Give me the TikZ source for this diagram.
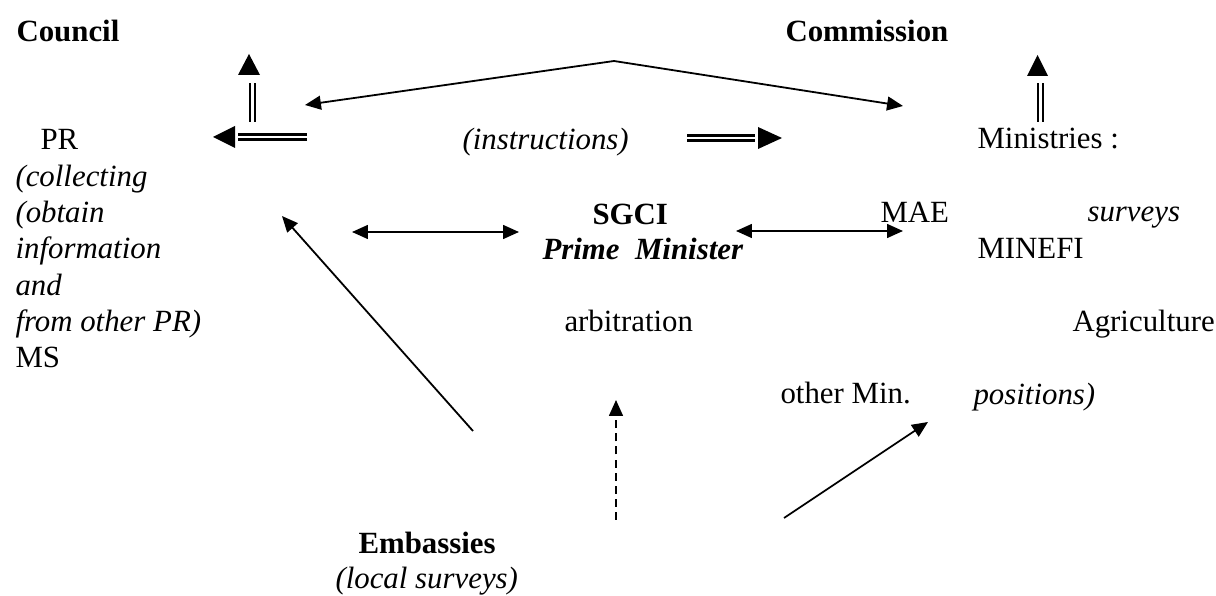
\documentclass[tikz,border=0pt]{standalone}
\usepackage{fontspec}
\setmainfont{Liberation Serif}
\usetikzlibrary{arrows.meta}
\begin{document}
\begin{tikzpicture}[x=0.389pt,y=-0.389pt,
  txt/.style={anchor=base west, inner sep=0pt, font=\fontsize{12}{14}\selectfont},
  thinarrow/.style={line width=0.7pt, -{Triangle[length=6.2pt,width=5.4pt]}},
  botharrow/.style={line width=0.7pt, {Triangle[length=6.2pt,width=5.4pt]}-{Triangle[length=6.2pt,width=5.4pt]}},
  dasharrow/.style={line width=0.7pt, dash pattern=on 3.1pt off 2pt, -{Triangle[length=6.2pt,width=5.4pt]}},
  dbl/.style={double, line width=0.95pt, double distance=0.9pt},
  headfill/.style={fill=black, draw=none}]
\useasboundingbox (0,0) rectangle (1216,596);

% texts
\node[txt] (council) at (16,42) {\textbf{Council}};
\node[txt] (commission) at (785,42) {\textbf{Commission}};
\node[txt] (pr) at (40,150) {PR};
\node[txt] (l1) at (15,186.5) {\textit{(collecting}};
\node[txt] (l2) at (15,223) {\textit{(obtain}};
\node[txt] (l3) at (15,259) {\textit{information}};
\node[txt] (l4) at (15,295.5) {\textit{and}};
\node[txt] (l5) at (15,332) {\textit{from other PR)}};
\node[txt] (ms) at (15,368) {MS};
\node[txt] (instr) at (462,150) {\textit{(instructions)}};
\node[txt] (ministries) at (977,149) {Ministries :};
\node[txt] (sgci) at (592,225) {\textbf{SGCI}};
\node[txt] (pm) at (542,260) {\textbf{\textit{Prime\ \ Minister}}};
\node[txt] (mae) at (880,223) {MAE};
\node[txt] (surveys) at (1087,222) {\textit{surveys}};
\node[txt] (minefi) at (977,259) {MINEFI};
\node[txt] (arb) at (564,332) {arbitration};
\node[txt] (agri) at (1072,332) {Agriculture};
\node[txt] (othermin) at (780,404) {other Min.};
\node[txt] (positions) at (973,405) {\textit{positions)}};
\node[txt] (emb) at (358,554) {\textbf{Embassies}};
\node[txt] (local) at (335,589) {\textit{(local surveys)}};

% coordinates for connectors
\coordinate (apex) at (614,61);
\coordinate (apexL) at (305,105);
\coordinate (apexR) at (903,106);
\coordinate (hL1) at (352,232);
\coordinate (hL2) at (519,232);
\coordinate (hR1) at (736,231);
\coordinate (hR2) at (903,231);
\coordinate (dA1) at (473,431);
\coordinate (dA2) at (282,216);
\coordinate (dash1) at (616,520);
\coordinate (dash2) at (616,400);
\coordinate (dB1) at (784,518);
\coordinate (dB2) at (928,422);

% double-line arrows
\coordinate (upL1) at (252.5,122);
\coordinate (upL2) at (252.5,83);
\coordinate (hzL1) at (307,137);
\coordinate (hzL2) at (238,137);
\coordinate (hzR1) at (687,138);
\coordinate (hzR2) at (755,138);
\coordinate (upR1) at (1040.5,122);
\coordinate (upR2) at (1040.5,83);

\draw[dbl] (upL1) -- (upL2);
\fill[headfill] (238,75) -- (260,75) -- (249,54) -- cycle;
\draw[dbl] (hzL1) -- (hzL2);
\fill[headfill] (213,137) -- (235,126) -- (235,148) -- cycle;
\draw[dbl] (hzR1) -- (hzR2);
\fill[headfill] (758,127) -- (782,138) -- (758,149) -- cycle;
\draw[dbl] (upR1) -- (upR2);
\fill[headfill] (1027,76) -- (1048,76) -- (1037.5,55) -- cycle;

% single arrows
\draw[botharrow] (apexL) -- (apex) -- (apexR);
\draw[botharrow] (hL1) -- (hL2);
\draw[botharrow] (hR1) -- (hR2);
\draw[thinarrow] (dA1) -- (dA2);
\draw[dasharrow] (dash1) -- (dash2);
\draw[thinarrow] (dB1) -- (dB2);
\end{tikzpicture}
\end{document}
